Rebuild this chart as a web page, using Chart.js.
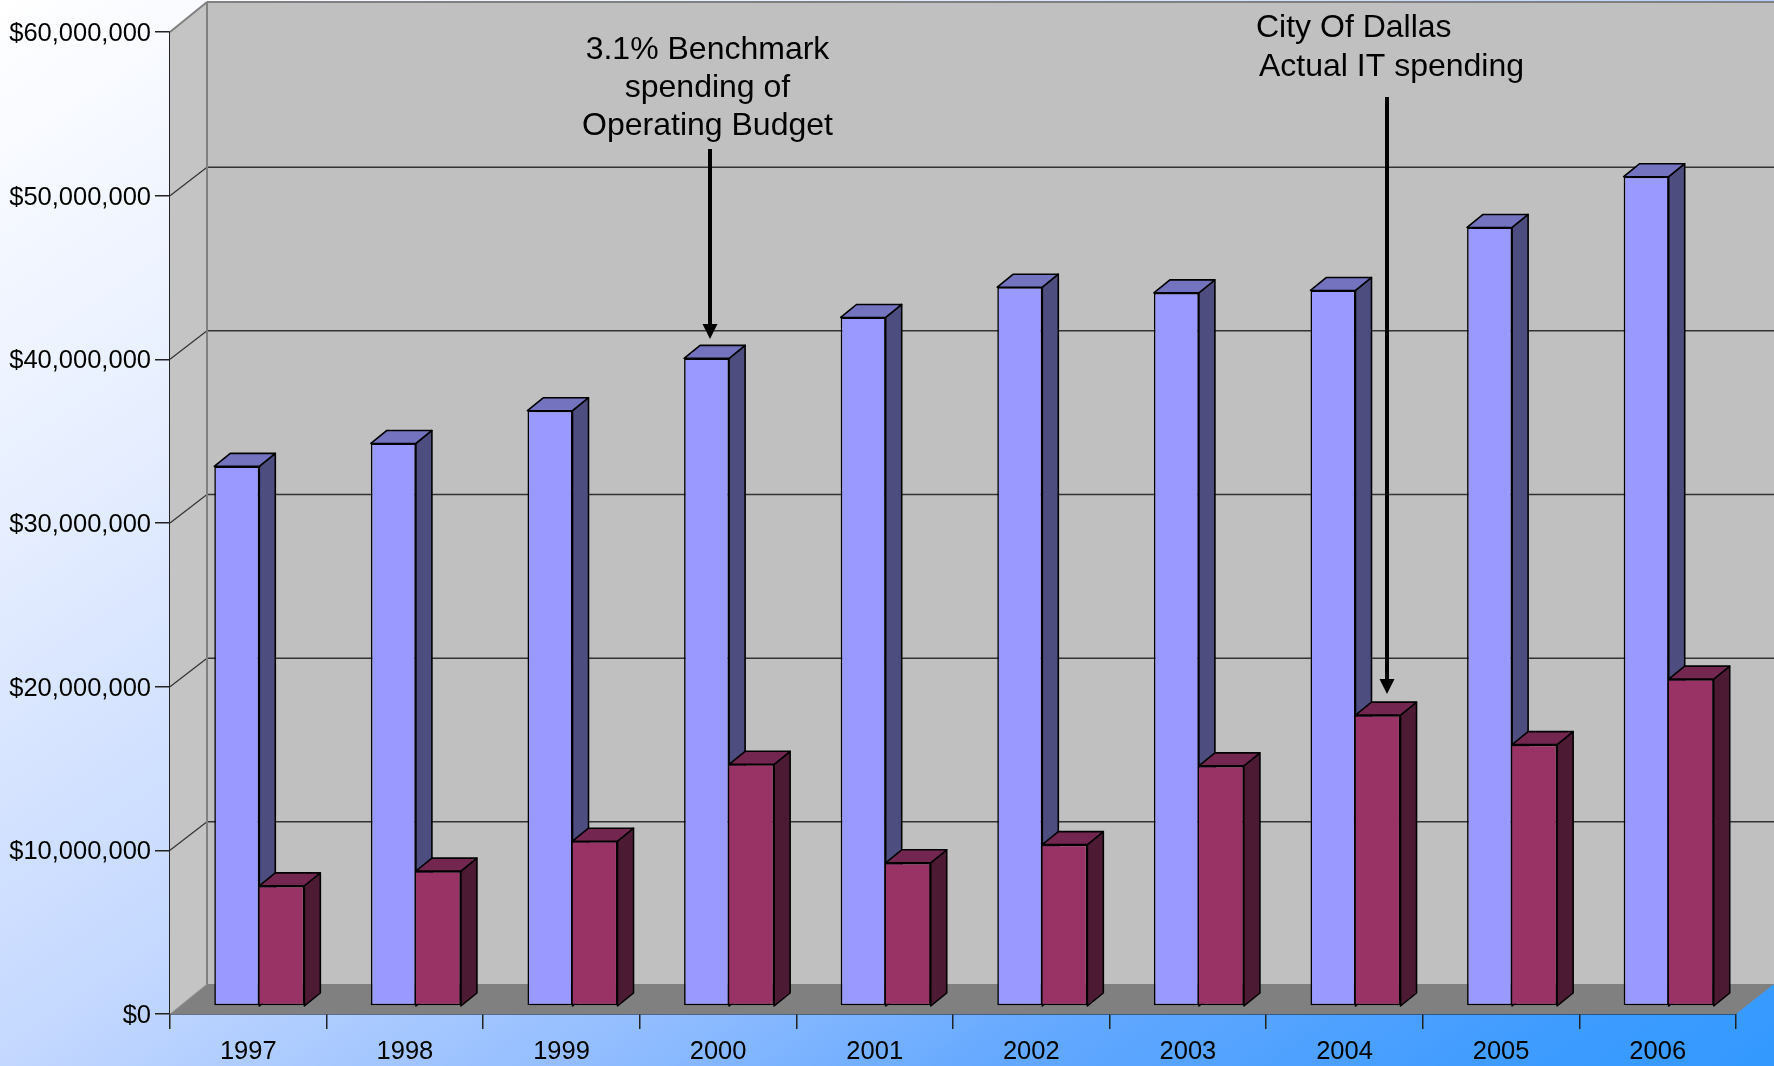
<!DOCTYPE html>
<html>
<head>
<meta charset="utf-8">
<title>City of Dallas IT spending</title>
<script src="https://cdn.jsdelivr.net/npm/chart.js@4"></script>
<style>
  html, body { margin: 0; padding: 0; width: 1774px; height: 1066px; overflow: hidden; }
  body { background: linear-gradient(146deg, #ffffff 0%, #e6eeff 23.6%, #c4d8ff 47%, #90bcff 65%, #63a8ff 77%, #3c9bff 93%, #3399ff 100%); }
  canvas { display: block; }
</style>
</head>
<body>
<canvas id="itChart" width="1774" height="1066"></canvas>
<script>
const years = ['1997', '1998', '1999', '2000', '2001', '2002', '2003', '2004', '2005', '2006'];

// Values in dollars
const benchmarkSpending = [32970000, 34370000, 36370000, 39570000, 42070000, 43920000, 43570000, 43720000, 47570000, 50670000];
const actualSpending = [7340000, 8240000, 10070000, 14770000, 8750000, 9860000, 14670000, 17770000, 15970000, 19970000];

const yTicks = [0, 10000000, 20000000, 30000000, 40000000, 50000000, 60000000];

const benchmarkNote = ['3.1% Benchmark', 'spending of', 'Operating Budget'];
const actualNote = ['City Of Dallas', 'Actual IT spending'];

// Depth of the fake 3D box and of the bars, in pixels
const WALL_DX = 37, WALL_DY = -30;
const GRID_DY = -28.5;
const BAR_SHIFT_X = 11, BAR_SHIFT_Y = -8;
const BAR_DX = 16, BAR_DY = -13;

const FONT = '"Liberation Sans", Arial, sans-serif';

function poly(ctx, pts, fill, stroke) {
  ctx.beginPath();
  ctx.moveTo(pts[0][0], pts[0][1]);
  for (let i = 1; i < pts.length; i++) ctx.lineTo(pts[i][0], pts[i][1]);
  ctx.closePath();
  if (fill) { ctx.fillStyle = fill; ctx.fill(); }
  if (stroke) { ctx.strokeStyle = stroke; ctx.lineWidth = 1.6; ctx.lineJoin = 'round'; ctx.stroke(); }
}

function line(ctx, x1, y1, x2, y2, color, width) {
  ctx.beginPath();
  ctx.moveTo(x1, y1);
  ctx.lineTo(x2, y2);
  ctx.strokeStyle = color;
  ctx.lineWidth = width;
  ctx.stroke();
}

function arrow(ctx, x, y1, y2) {
  line(ctx, x, y1, x, y2 - 14, '#000', 4);
  poly(ctx, [[x - 7.5, y2 - 15], [x + 7.5, y2 - 15], [x, y2]], '#000');
}

// top and side faces of one dataset's bars
function drawFaces(chart, index) {
  const ctx = chart.ctx;
  const ds = chart.data.datasets[index];
  const baseY = chart.scales.y.getPixelForValue(0);
  chart.getDatasetMeta(index).data.forEach(bar => {
    const right = bar.x + bar.width / 2, left = bar.x - bar.width / 2;
    poly(ctx, [[right, bar.y], [right + BAR_DX, bar.y + BAR_DY], [right + BAR_DX, baseY + BAR_DY], [right, baseY]], ds.sideColor, '#000');
    poly(ctx, [[left, bar.y], [left + BAR_DX, bar.y + BAR_DY], [right + BAR_DX, bar.y + BAR_DY], [right, bar.y]], ds.topColor, '#000');
  });
}

const boxPlugin = {
  id: 'box',
  // walls and floor behind the bars
  beforeDatasetsDraw(chart) {
    const { ctx, chartArea: a, scales: { y } } = chart;
    const top = a.top + WALL_DY, bottom = a.bottom + WALL_DY;
    const backLeft = a.left + WALL_DX, edge = chart.width;

    ctx.save();
    poly(ctx, [[backLeft, top], [edge, top], [edge, bottom], [backLeft, bottom]], '#c0c0c0');
    poly(ctx, [[a.left, a.top], [backLeft, top], [backLeft, bottom], [a.left, a.bottom]], '#c4c4c4');
    poly(ctx, [[a.left, a.bottom], [backLeft, bottom], [edge, bottom], [a.right, a.bottom]], '#808080');

    yTicks.forEach(v => {
      if (v === 0 || v === 60000000) return;
      const py = y.getPixelForValue(v);
      line(ctx, a.left, py, backLeft, py + GRID_DY, '#333', 1.2);
      line(ctx, backLeft, py + GRID_DY, edge, py + GRID_DY, '#333', 1.5);
    });

    line(ctx, a.left, a.top, backLeft, top, '#808080', 2);
    line(ctx, backLeft, top, edge, top, '#808080', 2);
    line(ctx, backLeft, top, backLeft, bottom, '#808080', 2);
    line(ctx, a.left, a.bottom, backLeft, bottom, '#999', 1);

    // left bars are painted last by the library, so their faces go down first
    ctx.translate(BAR_SHIFT_X, BAR_SHIFT_Y);
    drawFaces(chart, 0);
    ctx.restore();
  },
  // shift each bar back onto the floor
  beforeDatasetDraw(chart, args) {
    chart.ctx.save();
    chart.ctx.translate(BAR_SHIFT_X, BAR_SHIFT_Y);
    if (args.index === 1) drawFaces(chart, 1);
  },
  afterDatasetDraw(chart) {
    chart.ctx.restore();
  },
  afterDraw(chart) {
    const ctx = chart.ctx;
    ctx.save();
    ctx.fillStyle = '#000';
    ctx.font = '32px ' + FONT;
    ctx.textBaseline = 'middle';
    ctx.textAlign = 'center';
    benchmarkNote.forEach((t, i) => ctx.fillText(t, 707.5, 50 + i * 38));
    ctx.textAlign = 'left';
    ctx.fillText(actualNote[0], 1256, 28);
    ctx.fillText(actualNote[1], 1259, 67.5);
    arrow(ctx, 710, 149, 339);
    arrow(ctx, 1387, 97, 694);
    ctx.restore();
  }
};

new Chart(document.getElementById('itChart'), {
  type: 'bar',
  plugins: [boxPlugin],
  data: {
    labels: years,
    datasets: [
      {
        label: '3.1% Benchmark spending of Operating Budget',
        data: benchmarkSpending,
        backgroundColor: '#9999ff',
        topColor: '#7373bf',
        sideColor: '#4d4d80',
        borderColor: '#000',
        borderWidth: 1.6,
        borderSkipped: false,
        clip: false
      },
      {
        label: 'City Of Dallas Actual IT spending',
        data: actualSpending,
        backgroundColor: '#993366',
        topColor: '#732650',
        sideColor: '#4d1a33',
        borderColor: '#000',
        borderWidth: 1.6,
        borderSkipped: 'left',
        clip: false
      }
    ]
  },
  options: {
    responsive: false,
    animation: false,
    devicePixelRatio: 1,
    layout: { padding: { top: 32, right: 38, left: 0, bottom: 0 } },
    categoryPercentage: 0.575,
    barPercentage: 1,
    plugins: { legend: { display: false }, title: { display: false }, tooltip: { enabled: false } },
    scales: {
      x: {
        afterFit(scale) { scale.height = 52; },
        grid: { drawOnChartArea: false, tickLength: 15, color: '#222', lineWidth: 1.5 },
        border: { color: '#111', width: 1.5 },
        ticks: { color: '#000', font: { family: FONT, size: 25.5 }, padding: 8, maxRotation: 0 }
      },
      y: {
        min: 0,
        max: 60000000,
        afterFit(scale) { scale.width = 170; },
        afterBuildTicks(scale) { scale.ticks = yTicks.map(v => ({ value: v })); },
        grid: { drawOnChartArea: false, tickLength: 15, color: '#222', lineWidth: 1.5 },
        border: { color: '#222', width: 1.5 },
        ticks: {
          color: '#000',
          font: { family: FONT, size: 25.5 },
          padding: 4,
          labelOffset: 2,
          callback: v => '$' + v.toLocaleString('en-US')
        }
      }
    }
  }
});
</script>
</body>
</html>
